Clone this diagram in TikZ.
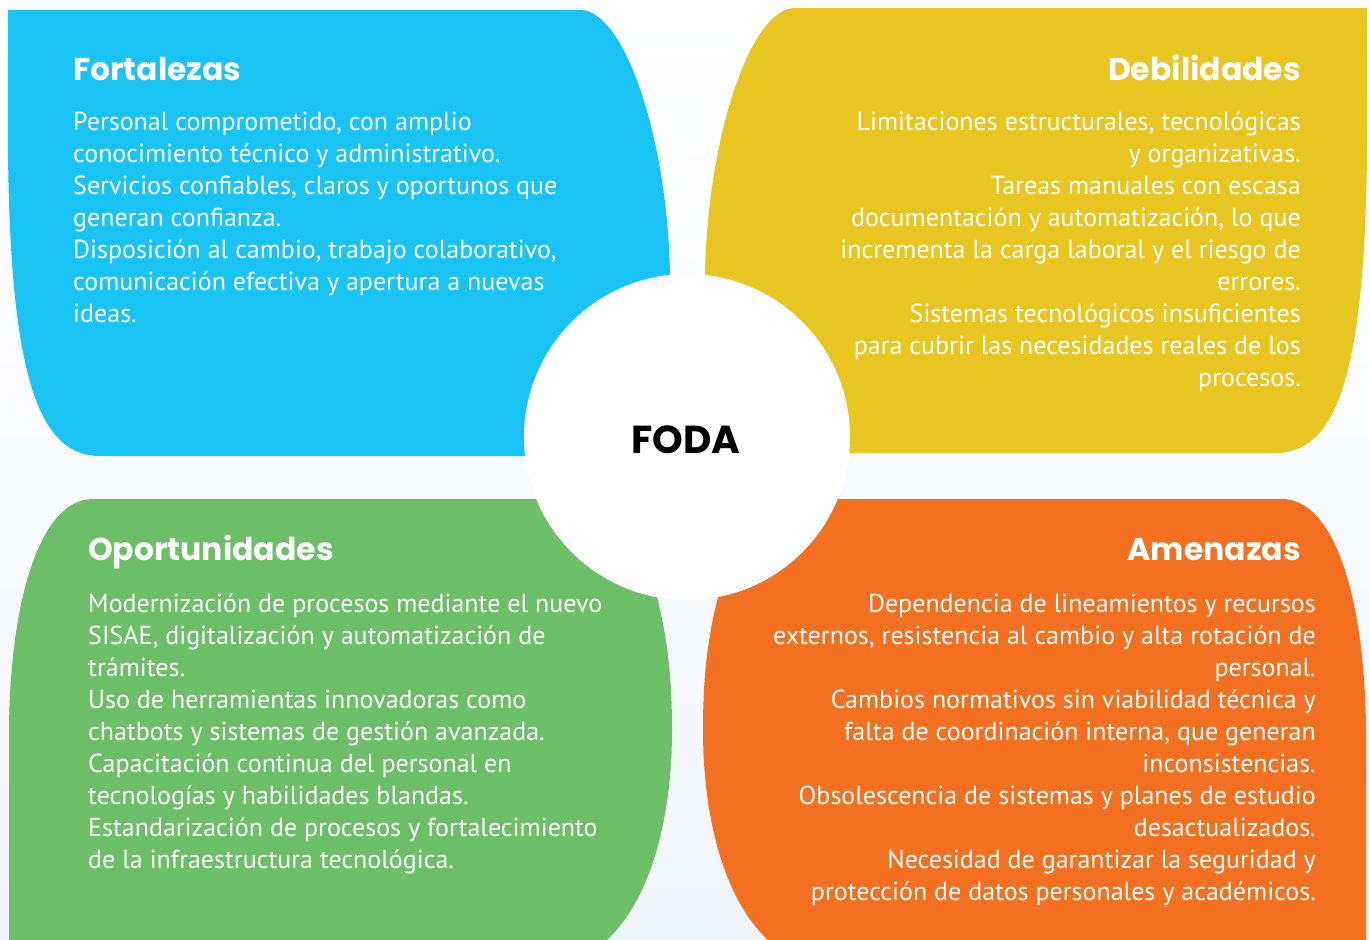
\documentclass[tikz,border=0pt]{standalone}
\usepackage{fontspec}
\newfontfamily\bodyfont{PT Sans}
\newfontfamily\headfont{Poppins}
\definecolor{cblue}{HTML}{19C3F3}
\definecolor{cyellow}{HTML}{E8C520}
\definecolor{cgreen}{HTML}{6DBF67}
\definecolor{corange}{HTML}{F37021}
\definecolor{bgbot}{HTML}{F1F6FB}
\newcommand\lblock[1]{\vtop{\baselineskip=32pt\lineskiplimit=-100pt\lineskip=0pt\halign{##\hfil\cr#1\crcr}}}
\newcommand\rblock[1]{\vtop{\baselineskip=32pt\lineskiplimit=-100pt\lineskip=0pt\halign{\hfil##\cr#1\crcr}}}
\tikzset{
  bodytext/.style={inner sep=0pt, text=white, font=\bodyfont\fontsize{26}{32}\selectfont},
  headtext/.style={inner sep=0pt, text=white, font=\headfont\bfseries\fontsize{31.5}{36}\selectfont},
  quad/.style={draw=none}
}
\begin{document}
\begin{tikzpicture}[x=1pt,y=-1pt]
\useasboundingbox (0,0) rectangle (1369,940);
\shade[top color=white, bottom color=bgbot] (0,0) rectangle (1369,940);
% Fortalezas
\fill[cblue] (8,10) -- (580,10) .. controls (625,10) and (668,140) .. (670,276)
  -- (670,456) -- (100,456) .. controls (40,456) and (10,380) .. (8,150) -- cycle;
% Debilidades
\fill[cyellow] (795,8) -- (1367,8) -- (1367,150) .. controls (1365,380) and (1335,453) .. (1275,453)
  -- (705,453) -- (705,276) .. controls (707,140) and (750,8) .. (795,8) -- cycle;
% Oportunidades
\fill[cgreen] (93,499) -- (657,499) -- (657,597) .. controls (668,640) and (672,680) .. (672,730)
  .. controls (672,820) and (650,900) .. (607,940) -- (9,940) -- (9,730)
  .. controls (10,600) and (40,499) .. (93,499) -- cycle;
% Amenazas
\fill[corange] (1282,499) -- (718,499) -- (718,597) .. controls (707,640) and (703,680) .. (703,730)
  .. controls (703,820) and (725,900) .. (768,940) -- (1366,940) -- (1366,730)
  .. controls (1365,600) and (1335,499) .. (1282,499) -- cycle;
% centre
\node[circle, fill=white, minimum size=326pt, inner sep=0pt] (c) at (687,437) {};
\node[inner sep=0pt, font=\headfont\bfseries\fontsize{39}{42}\selectfont, text=black] (foda) at (686,440) {FODA};

\node[headtext, anchor=base west] (fh) at (73,80) {Fortalezas};
\node[bodytext, anchor=base west] (fb) at (73,130) {\lblock{%
Personal comprometido, con amplio\cr
conocimiento técnico y administrativo.\cr
Servicios confiables, claros y oportunos que\cr
generan confianza.\cr
Disposición al cambio, trabajo colaborativo,\cr
comunicación efectiva y apertura a nuevas\cr
ideas.}};

\node[headtext, anchor=base east] (dh) at (1301,80) {Debilidades};
\node[bodytext, anchor=base east] (db) at (1301,130) {\rblock{%
Limitaciones estructurales, tecnológicas\cr
y organizativas.\cr
Tareas manuales con escasa\cr
documentación y automatización, lo que\cr
incrementa la carga laboral y el riesgo de\cr
errores.\cr
Sistemas tecnológicos insuficientes\cr
para cubrir las necesidades reales de los\cr
procesos.}};

\node[headtext, anchor=base west] (oh) at (88,560) {Oportunidades};
\node[bodytext, anchor=base west] (ob) at (88,612) {\lblock{%
Modernización de procesos mediante el nuevo\cr
SISAE, digitalización y automatización de\cr
trámites.\cr
Uso de herramientas innovadoras como\cr
chatbots y sistemas de gestión avanzada.\cr
Capacitación continua del personal en\cr
tecnologías y habilidades blandas.\cr
Estandarización de procesos y fortalecimiento\cr
de la infraestructura tecnológica.}};

\node[headtext, anchor=base east] (ah) at (1301,560) {Amenazas};
\node[bodytext, anchor=base east] (ab) at (1316,612) {\rblock{%
Dependencia de lineamientos y recursos\cr
externos, resistencia al cambio y alta rotación de\cr
personal.\cr
Cambios normativos sin viabilidad técnica y\cr
falta de coordinación interna, que generan\cr
inconsistencias.\cr
Obsolescencia de sistemas y planes de estudio\cr
desactualizados.\cr
Necesidad de garantizar la seguridad y\cr
protección de datos personales y académicos.}};
\end{tikzpicture}
\end{document}
